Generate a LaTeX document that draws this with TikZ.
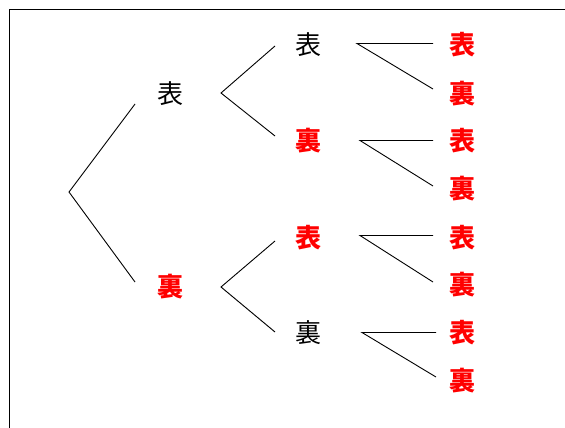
\documentclass[tikz,border=0pt]{standalone}
\usepackage{fontspec}
\newfontfamily\cjk{Noto Sans CJK JP}
\begin{document}
\begin{tikzpicture}[x=1pt,y=-1pt,
  blk/.style={font=\cjk\fontsize{26}{26}\selectfont, text=black, inner sep=0pt},
  red/.style={font=\cjk\bfseries\fontsize{26}{26}\selectfont, text=red, inner sep=0pt},
  ln/.style={draw=black, line width=0.9pt}]
\useasboundingbox (0,0) rectangle (565,428);
\draw[line width=1pt] (9,428) -- (9,10) -- (565,10);
% level 1
\node[blk] (a) at (170,94) {表};
\node[red] (b) at (170,287) {裏};
% level 2
\node[blk] (aa) at (308,45) {表};
\node[red] (ab) at (308,141) {裏};
\node[red] (ba) at (308,238) {表};
\node[blk] (bb) at (308,333) {裏};
% leaves
\node[red] (l1) at (462,45) {表};
\node[red] (l2) at (462,94) {裏};
\node[red] (l3) at (462,141) {表};
\node[red] (l4) at (462,189) {裏};
\node[red] (l5) at (462,238) {表};
\node[red] (l6) at (462,285) {裏};
\node[red] (l7) at (462,333) {表};
\node[red] (l8) at (462,381) {裏};
% coordinates
\coordinate (r) at (69,192);
\coordinate (ra) at (135,104);
\coordinate (rb) at (135,282);
\coordinate (pa) at (221,93);
\coordinate (paa) at (275,46);
\coordinate (pab) at (275,136);
\coordinate (pb) at (221,287);
\coordinate (pba) at (275,241);
\coordinate (pbb) at (275,332);
\coordinate (q1) at (357,43.5);
\coordinate (q1a) at (433,43.5);
\coordinate (q1b) at (433,89);
\coordinate (q2) at (360,140.5);
\coordinate (q2a) at (433,140.5);
\coordinate (q2b) at (433,186);
\coordinate (q3) at (360,235.5);
\coordinate (q3a) at (433,235.5);
\coordinate (q3b) at (433,282);
\coordinate (q4) at (362,332.5);
\coordinate (q4a) at (436,332.5);
\coordinate (q4b) at (436,377);
\draw[ln] (ra) -- (r) -- (rb);
\draw[ln] (paa) -- (pa) -- (pab);
\draw[ln] (pba) -- (pb) -- (pbb);
\draw[ln] (q1a) -- (q1) -- (q1b);
\draw[ln] (q2a) -- (q2) -- (q2b);
\draw[ln] (q3a) -- (q3) -- (q3b);
\draw[ln] (q4a) -- (q4) -- (q4b);
\end{tikzpicture}
\end{document}
